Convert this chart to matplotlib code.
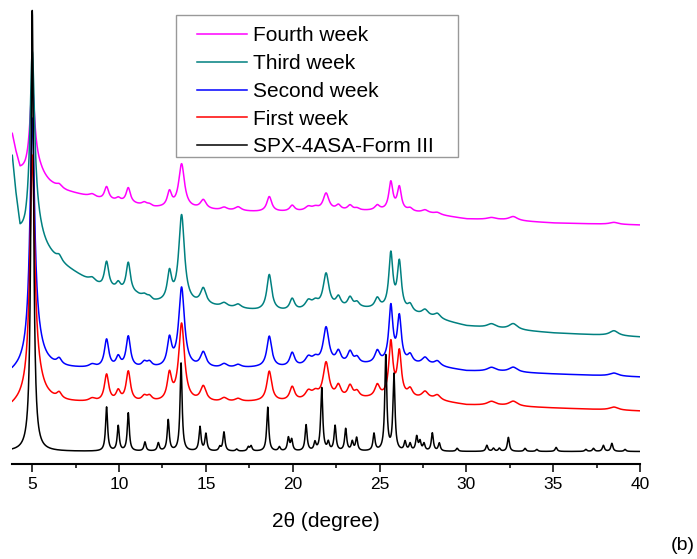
import matplotlib
matplotlib.use('Agg')
import matplotlib.pyplot as plt
from matplotlib.patches import Rectangle
import numpy as np

plt.rcParams['font.family'] = ['Liberation Sans', 'DejaVu Sans']

# background anchors (2theta, intensity) for the broad patterns
bg_x = [3.85, 4.05, 4.3, 4.6, 5.5, 6, 7, 8, 9, 10, 11, 12, 14, 16, 18, 20,
        22, 24, 26, 28, 30, 32, 35, 40]
red_bg = [55, 56, 57, 58, 60, 61, 61, 61, 61, 61, 61, 61, 61, 61, 62, 62,
          64, 65, 66, 64, 59, 58, 56, 53]
blue_bg = [89, 90, 91, 92, 94, 95, 95, 95, 95, 95, 95, 95, 95, 95, 96, 96,
           98, 99, 100, 98, 93, 92, 90, 87]
teal_bg = [302, 264, 225, 217, 211, 206, 195, 185, 176, 172, 168, 161, 159,
           156, 153, 152, 155, 155, 153, 146, 138, 135, 131, 127]
magenta_bg = [327, 309, 290, 286, 282, 278, 272, 268, 264, 262, 259, 256, 255,
              253, 252, 252, 253, 253, 253, 250, 245, 244, 241, 239]

# peaks shared by the four stability samples
broad_pos = [5.0, 5.15, 6.55, 8.45, 9.28, 9.95, 10.53, 11.45, 11.75, 12.9,
             13.6, 14.85, 16.05, 16.85, 18.65, 19.97, 20.9, 21.3, 21.92, 22.63,
             23.3, 23.7, 24.87, 25.65, 26.14, 26.76, 27.62, 28.33, 31.45, 32.7,
             38.5]
broad_hw = [0.16, 0.5, 0.17, 0.22, 0.15, 0.15, 0.15, 0.17, 0.17, 0.15,
            0.2, 0.2, 0.22, 0.22, 0.17, 0.17, 0.22, 0.22, 0.2, 0.17,
            0.17, 0.17, 0.17, 0.14, 0.14, 0.17, 0.22, 0.22, 0.3, 0.3, 0.3]
red_h = [226, 26, 6, 3, 27, 10, 30, 5, 5, 26, 78, 15, 4, 3, 30, 14, 8, 6, 36,
         12, 12, 6, 12, 54, 44, 8, 7, 5, 4, 5, 3]
blue_h = [229, 26, 6, 3, 28, 10, 31, 5, 5, 27, 80, 15, 4, 3, 31, 14, 8, 6, 37,
          12, 12, 6, 12, 56, 45, 8, 7, 5, 4, 5, 3]
teal_h = [175, 25, 5, 4, 26, 7, 30, 3, 3, 28, 88, 16, 4, 4, 36, 12, 8, 6, 34,
          10, 10, 5, 10, 55, 47, 7, 6, 5, 4, 6, 5]
magenta_h = [80, 16, 3, 3, 13, 3, 15, 3, 2, 15, 44, 9, 3, 4, 15, 6, 4, 3, 17,
             5, 5, 2, 5, 28, 23, 3, 3, 2, 2, 4, 2]

# SPX-4ASA-Form III reference pattern
black_base = 12.5
black_pos = [5.0, 9.28, 9.95, 10.53, 11.49, 12.26, 12.83, 13.57, 14.66, 15.0,
             15.8, 16.04, 16.77, 17.44, 17.6, 18.56, 19.23, 19.75, 19.94, 20.77,
             21.28, 21.67, 22.05, 22.44, 23.05, 23.43, 23.68, 24.68, 25.36,
             25.83, 26.47, 26.76, 27.14, 27.33, 27.56, 28.04, 28.44, 29.47,
             31.18, 31.56, 31.9, 32.42, 33.38, 34.06, 35.17, 36.88, 37.32,
             37.89, 38.38, 39.14]
black_h = [441, 44, 25, 38, 9, 8, 31, 88, 24, 17,
           4, 19, 2, 4, 5, 44, 4, 13, 11, 26,
           8, 63, 8, 25, 22, 9, 13, 17, 95,
           76, 9, 7, 14, 9, 7, 18, 8, 3,
           6, 3, 3, 14, 3, 2, 4, 2, 3,
           6, 8, 2]

labels = ['Fourth week', 'Third week', 'Second week', 'First week',
          'SPX-4ASA-Form III']
colors = ['#FF00FF', '#008080', '#0000FF', '#FF0000', '#000000']

tt = np.arange(3.85, 40.001, 0.01)


def pattern(pos, h, hw, base):
    y = np.interp(tt, bg_x, base) if np.ndim(base) else np.full_like(tt, base)
    for p, a, w in zip(pos, h, hw):
        y = y + a / (1 + ((tt - p) / w) ** 2)
    return y


curves = [
    pattern(broad_pos, magenta_h, broad_hw, magenta_bg),
    pattern(broad_pos, teal_h, broad_hw, teal_bg),
    pattern(broad_pos, blue_h, broad_hw, blue_bg),
    pattern(broad_pos, red_h, broad_hw, red_bg),
    pattern(black_pos, black_h,
            [0.09] + [0.07] * (len(black_pos) - 1), black_base),
]

fig = plt.figure(figsize=(6.97, 5.59), dpi=100)
ax = fig.add_axes([12.3 / 697, 95 / 559, 627.7 / 697, 464 / 559])

for y, c, lab in zip(curves, colors, labels):
    ax.plot(tt, y, color=c, lw=1.1, label=lab)

ax.set_xlim(3.85, 40)
ax.set_ylim(0, 464)
ax.set_xticks(np.arange(5, 41, 5))
ax.set_xticks(np.arange(7.5, 40, 5), minor=True)
ax.set_yticks([])
for s in ['left', 'right', 'top']:
    ax.spines[s].set_visible(False)
ax.spines['bottom'].set_linewidth(1.5)
ax.tick_params(axis='x', which='major', length=6, width=1.1, pad=3.5,
               labelsize=12.5, direction='out')
ax.tick_params(axis='x', which='minor', length=3, width=1.1, direction='out')
ax.patch.set_visible(False)

ax.set_xlabel('2θ (degree)', fontsize=15, labelpad=14)

leg = ax.legend(loc='upper left', bbox_to_anchor=(0.294, 0.943),
                fontsize=15, handlelength=2.4, handletextpad=0.29,
                labelspacing=0.42, borderpad=0, frameon=False,
                borderaxespad=0)
fig.patches.append(Rectangle((176 / 697, 1 - 157 / 559), 282 / 697,
                             142 / 559, transform=fig.transFigure,
                             fill=False, edgecolor='#999999', lw=1.0))

fig.text(683 / 697, 1 - 545 / 559, '(b)', ha='center', va='center',
         fontsize=14)

fig.savefig('out.png', dpi=100)
